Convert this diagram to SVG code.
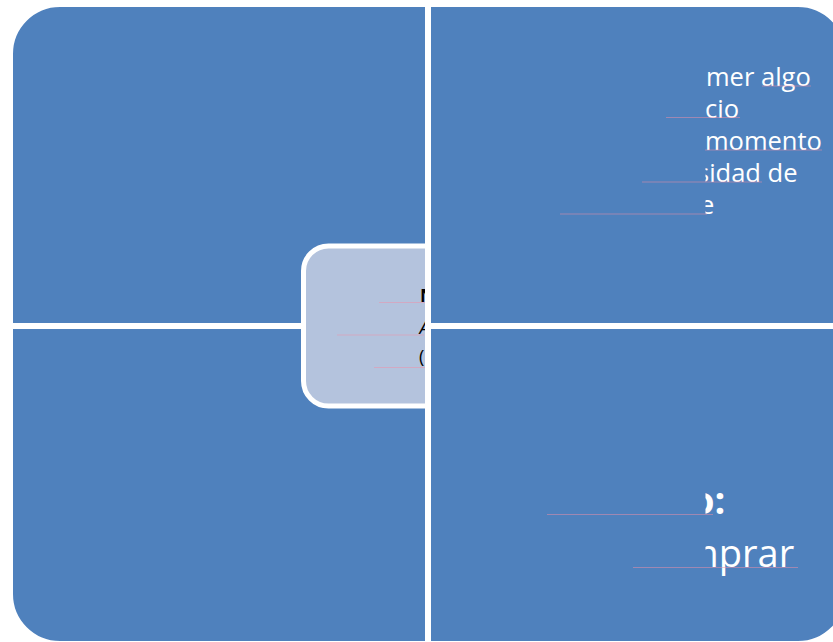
<svg xmlns="http://www.w3.org/2000/svg" width="833" height="642" viewBox="0 0 833 642">
  <style>
    .quad { fill: #4F81BD; stroke: #FFFFFF; stroke-width: 6; }
    .center { fill: #B4C3DD; stroke: #FFFFFF; stroke-width: 5; }
    .wt { fill: #FFFFFF; font-family: "Open Sans", "Noto Sans", sans-serif; font-size: 25.5px; }
    .wbig { fill: #FFFFFF; font-family: "Open Sans", "Noto Sans", sans-serif; font-size: 38px; }
    .ct { fill: #000000; font-family: "Open Sans", "Noto Sans", sans-serif; font-size: 18px; }
    .ul { stroke: #F090A8; stroke-opacity: 0.5; stroke-width: 1; fill: none; }
  </style>
  <defs>
    <clipPath id="clipRight"><rect x="705.5" y="0" width="200" height="642"/></clipPath>
    <clipPath id="clipCenter"><rect x="306" y="248" width="119" height="156"/></clipPath>
  </defs>

  <g id="quad-top-left"><path class="quad" d="M10,54 A50,50 0 0 1 60,4 H428 V326 H10 Z"/></g>
  <g id="quad-bottom-left"><path class="quad" d="M10,326 H428 V644 H60 A50,50 0 0 1 10,594 Z"/></g>

  <g id="center-node">
    <rect class="center" x="303.5" y="246" width="249" height="160" rx="25" ry="25"/>
    <g clip-path="url(#clipCenter)">
      <text class="ct" x="420" y="302" font-weight="bold">N</text>
      <text class="ct" x="419.5" y="334" font-style="italic">A</text>
      <text class="ct" x="419" y="363" font-size="20px">(</text>
    </g>
  </g>

  <g id="quad-top-right">
    <path class="quad" d="M428,4 H798 A50,50 0 0 1 848,54 V326 H428 Z"/>
    <g clip-path="url(#clipRight)">
      <text class="wt" x="706" y="85.5">mer algo</text>
      <text class="wt" x="705" y="117.5">cio</text>
      <text class="wt" x="705" y="149.5">momento</text>
      <text class="wt" x="697" y="181.5">sidad de</text>
      <text class="wt" x="700" y="213.5">e</text>
    </g>
  </g>

  <g id="quad-bottom-right">
    <path class="quad" d="M428,326 H848 V594 A50,50 0 0 1 798,644 H428 Z"/>
    <g clip-path="url(#clipRight)">
      <text class="wbig" x="691" y="514" font-weight="bold">o:</text>
      <text class="wbig" x="683.6" y="567">mprar</text>
    </g>
  </g>

  <g id="connectors">
    <line class="ul" x1="762" y1="86" x2="811" y2="86"/>
    <line class="ul" x1="666" y1="117.5" x2="740" y2="117.5"/>
    <line class="ul" x1="705" y1="150" x2="822" y2="150"/>
    <line class="ul" x1="642" y1="182" x2="762" y2="182"/>
    <line class="ul" x1="560" y1="214" x2="707" y2="214"/>
    <line class="ul" x1="379" y1="302.5" x2="425" y2="302.5"/>
    <line class="ul" x1="337" y1="335" x2="424" y2="335"/>
    <line class="ul" x1="374" y1="367.5" x2="425" y2="367.5"/>
    <line class="ul" x1="547" y1="514.5" x2="713" y2="514.5"/>
    <line class="ul" x1="633" y1="567.5" x2="798" y2="567.5"/>
  </g>
</svg>
